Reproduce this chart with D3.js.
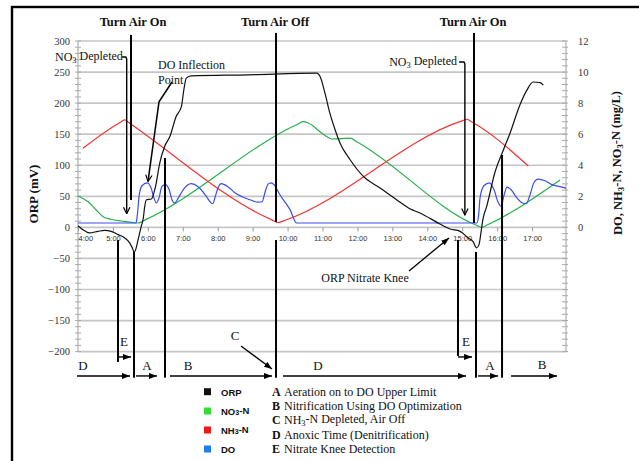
<!DOCTYPE html>
<html><head><meta charset="utf-8">
<script src="https://cdn.jsdelivr.net/npm/d3@7"></script>
<style>
html,body{margin:0;padding:0;background:#fff;}
svg{display:block;}
</style></head><body>
<svg id="chart" width="639" height="461"></svg>
<script>
// ---------- data ----------
const hourTicks = [4,5,6,7,8,9,10,11,12,13,14,15,16,17];
const hourLabels = ["4:00","5:00","6:00","7:00","8:00","9:00","10:00","11:00","12:00","13:00","14:00","15:00","16:00","17:00"];
const orpTicks = [-200,-150,-100,-50,0,50,100,150,200,250,300];
const mgTicks = [0,2,4,6,8,10,12];

const orpHours = [4.00,4.14,4.33,4.57,4.76,4.95,5.15,5.34,5.48,5.55,5.61,5.66,5.72,5.81,5.87,5.91,5.96,6.10,6.22,6.34,6.48,6.63,6.81,6.96,7.03,7.10,7.24,8.87,10.83,10.93,11.07,11.21,11.36,11.50,11.79,12.17,12.65,13.12,13.50,13.79,14.36,14.65,14.94,15.17,15.31,15.41,15.48,15.54,15.59,15.70,15.94,16.18,16.37,16.65,16.85,17.03,17.23,17.32];
const orpValues = [2.7,-3.7,-9.0,-6.4,-4.8,-6.4,-11.7,-17,-25,-32.6,-39.9,-34.2,-19.8,1.6,15.1,33.8,44.5,45.7,65.9,103.5,130.2,146.3,178.5,194.5,221.4,240.2,243.9,245.5,248.2,242.8,216.1,183.9,157.1,135.7,108.8,82.0,63.3,44.5,30,23.2,5.5,-2.6,-6.4,-17,-23,-33,-27.8,-6.9,12.4,33.8,89.5,125,152,197,221,234,233,229];

const no3Hours = [4.00,4.29,4.52,4.72,4.95,5.24,5.58,5.72,5.92,10.30,10.45,10.59,11.07,11.27,11.79,11.99,15.39,15.56,15.71,17.80];
const no3Values = [2.02,1.65,1.12,0.69,0.52,0.41,0.30,0.28,0.48,6.66,6.81,6.72,5.92,5.69,5.74,5.50,0.15,0.0,0.15,3.05];

const nh3Hours = [4.14,5.23,5.34,5.45,9.55,9.73,9.93,14.99,15.13,15.25,16.89];
const nh3Values = [5.09,6.79,6.92,6.75,0.48,0.31,0.46,6.86,6.96,6.82,3.95];

const doHours = [4.00,5.66,5.70,5.75,5.83,5.98,6.09,6.18,6.24,6.32,6.40,6.50,6.61,6.69,6.77,6.86,7.01,7.24,7.44,7.66,7.78,7.86,7.92,8.01,8.10,8.29,8.49,8.92,9.15,9.27,9.35,9.44,9.52,9.61,9.78,10.07,10.26,15.42,15.47,15.51,15.62,15.78,15.91,16.02,16.11,16.20,16.28,16.40,16.54,16.71,16.83,16.94,17.05,17.17,17.37,17.57,17.80,17.97];
const doValues = [0.28,0.28,0.82,2.04,2.68,2.86,2.55,1.85,1.57,1.91,2.62,2.75,2.42,1.78,1.57,1.85,2.42,2.81,2.62,2.04,1.65,1.52,1.91,2.55,2.81,2.62,2.23,1.78,1.62,1.65,2.23,2.78,2.87,2.75,2.10,1.14,0.28,0.28,0.82,1.91,2.68,2.87,2.42,1.65,1.36,2.10,2.59,2.42,1.97,1.59,1.52,2.10,2.87,3.10,3.00,2.75,2.62,2.52];

const seriesNames = ["ORP","NO3-N","NH3-N","DO"];
const seriesColors = ["#111111","#22b04a","#f03333","#3a4df0"];
const legendColors = ["#111111","#33dd33","#ee1a1a","#1a7ff0"];
const phaseNotes = [["A","Aeration on to DO Upper Limit"],["B","Nitrification Using DO Optimization"],["C","NH|3|-N Depleted, Air Off"],["D","Anoxic Time (Denitrification)"],["E","Nitrate Knee Detection"]];

// ---------- setup ----------
const SERIF = "'Liberation Serif','Times New Roman',serif";
const SANS = "'Liberation Sans',Arial,sans-serif";
const svg = d3.select("#chart");
const x = d3.scaleLinear().domain([4, 17.97]).range([78, 566]);
const yL = d3.scaleLinear().domain([-200, 300]).range([351.6, 41]);
const yR = d3.scaleLinear().domain([-8, 12]).range([351.6, 41]);

const defs = svg.append("defs");
defs.append("marker").attr("id","tri").attr("viewBox","0 0 10 10").attr("refX",10).attr("refY",5)
  .attr("markerUnits","userSpaceOnUse").attr("markerWidth",8).attr("markerHeight",6)
  .attr("orient","auto").attr("preserveAspectRatio","none")
  .append("path").attr("d","M0,0L10,5L0,10Z").attr("fill","#000");
defs.append("marker").attr("id","vee").attr("viewBox","0 0 10 10").attr("refX",9).attr("refY",5)
  .attr("markerUnits","userSpaceOnUse").attr("markerWidth",8).attr("markerHeight",8)
  .attr("orient","auto")
  .append("path").attr("d","M1,1L9,5L1,9").attr("fill","none").attr("stroke","#000").attr("stroke-width",1.5);

// frame
svg.append("rect").attr("x",12).attr("y",7).attr("width",700).attr("height",520)
  .attr("fill","none").attr("stroke","#000").attr("stroke-width",2.4);

// gridlines
svg.append("g").selectAll("line").data(orpTicks).join("line")
  .attr("x1",x.range()[0]).attr("x2",x.range()[1])
  .attr("y1",d=>yL(d)).attr("y2",d=>yL(d))
  .attr("stroke","#c6c6c6").attr("stroke-width",1.7);

// axis lines
[x.range()[0], x.range()[1]].forEach(px=>{
  svg.append("line").attr("x1",px).attr("x2",px).attr("y1",yL(300)).attr("y2",yL(-200))
    .attr("stroke","#b5b5b5").attr("stroke-width",1.3);
});
// minor ticks
const minor = d3.range(-200, 301, 10);
svg.append("g").selectAll("line").data(minor).join("line")
  .attr("x1",x.range()[0]-3).attr("x2",x.range()[0]+3)
  .attr("y1",d=>yL(d)).attr("y2",d=>yL(d)).attr("stroke","#aaa").attr("stroke-width",1);
svg.append("g").selectAll("line").data(minor).join("line")
  .attr("x1",x.range()[1]-4).attr("x2",x.range()[1]+2)
  .attr("y1",d=>yL(d)).attr("y2",d=>yL(d)).attr("stroke","#aaa").attr("stroke-width",1);

// left axis labels
const gL = svg.append("g").attr("transform",`translate(${x.range()[0]},0)`)
  .call(d3.axisLeft(yL).tickValues(orpTicks).tickSize(0).tickPadding(8));
gL.select(".domain").remove();
gL.selectAll("text").attr("font-family",SERIF).attr("font-size",10.5).attr("fill","#333");

// right axis labels
const gR = svg.append("g").attr("transform",`translate(${x.range()[1]},0)`)
  .call(d3.axisRight(yR).tickValues(mgTicks).tickSize(0).tickPadding(12));
gR.select(".domain").remove();
gR.selectAll("text").attr("font-family",SERIF).attr("font-size",10.5).attr("fill","#333");

// bottom axis (on the zero line)
const gB = svg.append("g").attr("transform",`translate(0,${yL(0)})`)
  .call(d3.axisBottom(x).tickValues(hourTicks).tickFormat((d,i)=>hourLabels[i]).tickSize(4).tickPadding(4));
gB.select(".domain").remove();
gB.selectAll(".tick line").attr("stroke","#999");
gB.selectAll("text").attr("font-family",SANS).attr("font-size",7.5).attr("fill","#333");
gB.selectAll("text").filter((d,i)=>i===0).attr("text-anchor","start");

// ---------- series ----------
function drawSeries(hours, values, yScale, color, curve){
  const pts = hours.map((h,i)=>[h, values[i]]);
  svg.append("path").datum(pts)
    .attr("d", d3.line().x(d=>x(d[0])).y(d=>yScale(d[1])).curve(curve))
    .attr("fill","none").attr("stroke",color).attr("stroke-width",1.2);
}
drawSeries(no3Hours, no3Values, yR, seriesColors[1], d3.curveMonotoneX);
drawSeries(nh3Hours, nh3Values, yR, seriesColors[2], d3.curveMonotoneX);
drawSeries(doHours, doValues, yR, seriesColors[3], d3.curveMonotoneX);
drawSeries(orpHours, orpValues, yL, seriesColors[0], d3.curveMonotoneX);

// ---------- annotations (in data units: hours, mV) ----------
const vLines = [[5.517,309.8,44.1],[5.603,-39.6,-242],[5.145,-20.3,-216.6],[6.491,111.7,-242],
  [9.669,313,8.7],[9.669,-20.3,-242],[15.337,313,7.1],[15.394,-39.6,-242],[14.879,-20.3,-207],[16.139,116.5,-242]];
svg.append("g").selectAll("line").data(vLines).join("line")
  .attr("x1",d=>x(d[0])).attr("x2",d=>x(d[0])).attr("y1",d=>yL(d[1])).attr("y2",d=>yL(d[2]))
  .attr("stroke","#000").attr("stroke-width",2);

const phaseArrows = [[3.971,5.489,-239.2],[5.66,6.262,-239.2],[6.634,9.554,-239.2],[9.869,15.108,-239.2],
  [15.452,16.025,-239.2],[16.397,17.713,-239.2],[5.145,5.517,-208.6],[14.879,15.28,-208.6]];
svg.append("g").selectAll("line").data(phaseArrows).join("line")
  .attr("x1",d=>x(d[0])).attr("x2",d=>x(d[1])).attr("y1",d=>yL(d[2])).attr("y2",d=>yL(d[2]))
  .attr("stroke","#000").attr("stroke-width",1.4).attr("marker-end","url(#tri)");

const phaseLabels = [["D",4.143,-223.1],["A",5.975,-223.1],["B",7.149,-223.1],["D",10.871,-223.1],
  ["A",15.795,-223.1],["B",17.284,-221],["E",5.317,-184.4],["E",15.108,-184.4],["C",8.495,-174.8]];
svg.append("g").selectAll("text").data(phaseLabels).join("text")
  .attr("x",d=>x(d[1])).attr("y",d=>yL(d[2])).attr("text-anchor","middle").attr("dominant-baseline","central")
  .attr("font-family",SERIF).attr("font-size",13).attr("fill","#111").text(d=>d[0]);

// polyline arrows
function poly(pts, marker, w){
  svg.append("path").datum(pts)
    .attr("d", d3.line().x(d=>x(d[0])).y(d=>yL(d[1])))
    .attr("fill","none").attr("stroke","#000").attr("stroke-width",w||1.3)
    .attr("marker-end",`url(#${marker})`);
}
poly([[5.26,274.2],[5.37,274.2],[5.394,271],[5.394,22]], "vee", 1.4);
poly([[14.908,266.1],[15.05,266.1],[15.075,263],[15.075,20]], "vee", 1.4);
poly([[6.691,234],[6.319,202],[6.004,74]], "vee", 1.5);
poly([[13.476,-70.2],[14.621,-17]], "tri", 1.3);
poly([[8.666,-190.9],[9.554,-227.9]], "tri", 1.3);

// texts with optional subscripts: "NO|3| Depleted" -> sub between bars
function richText(g, str, subSize){
  const parts = str.split("|");
  parts.forEach((p,i)=>{
    if(!p) return;
    const sub = i % 2 === 1;
    const t = g.append("tspan").text(p);
    if(sub){ t.attr("font-size",subSize).attr("dy","0.3em"); }
    else if(i>0){ t.attr("dy","-0.3em"); }
  });
}
function note(h, v, str, opt){
  const t = svg.append("text").attr("x",x(h)).attr("y",yL(v))
    .attr("dominant-baseline","central")
    .attr("text-anchor",opt.anchor||"start")
    .attr("font-family",opt.family||SERIF).attr("font-size",opt.size||12)
    .attr("font-weight",opt.weight||"normal").attr("fill","#111");
  richText(t, str, opt.sub||"70%");
  return t;
}
note(5.575,330.7,"Turn Air On",{anchor:"middle",weight:"bold",size:12.5});
note(9.64,330.7,"Turn Air Off",{anchor:"middle",weight:"bold",size:12.5});
note(15.31,330.7,"Turn Air On",{anchor:"middle",weight:"bold",size:12.5});
note(3.342,274.2,"NO|3| Depleted",{size:12});
note(14.85,266.1,"NO|3| Depleted",{anchor:"end",size:12});
note(6.29,261.3,"DO Inflection",{size:12});
note(6.29,237.3,"Point",{size:12});
note(12.216,-81.5,"ORP Nitrate Knee",{anchor:"middle",size:12});

// axis titles
svg.append("text").attr("transform","translate(33,194) rotate(-90)")
  .attr("text-anchor","middle").attr("dominant-baseline","central")
  .attr("font-family",SERIF).attr("font-weight","bold").attr("font-size",13).attr("fill","#111")
  .text("ORP (mV)");
const rt = svg.append("text").attr("transform","translate(618,163) rotate(-90)")
  .attr("text-anchor","middle").attr("dominant-baseline","central")
  .attr("font-family",SERIF).attr("font-weight","bold").attr("font-size",12.5).attr("fill","#111");
richText(rt, "DO, NH|3|-N, NO|3|-N (mg/L)", "70%");

// ---------- legend ----------
const legRows = [391.7, 411, 430, 449];
seriesNames.forEach((n,i)=>{
  svg.append("rect").attr("x",204).attr("y",legRows[i]-3.5).attr("width",7).attr("height",7)
    .attr("fill",legendColors[i]);
  const t = svg.append("text").attr("x",221).attr("y",legRows[i]).attr("dominant-baseline","central")
    .attr("font-family",SANS).attr("font-weight","bold").attr("font-size",9.5).attr("fill","#111");
  richText(t, n.replace("3","|3|"), "75%");
});
const noteRows = [392, 406.2, 420.4, 434.6, 448.8];
phaseNotes.forEach((p,i)=>{
  svg.append("text").attr("x",272).attr("y",noteRows[i]).attr("dominant-baseline","central")
    .attr("font-family",SERIF).attr("font-weight","bold").attr("font-size",12).attr("fill","#111").text(p[0]);
  const t = svg.append("text").attr("x",284).attr("y",noteRows[i]).attr("dominant-baseline","central")
    .attr("font-family",SERIF).attr("font-size",12).attr("fill","#111");
  richText(t, p[1], "70%");
});
</script>
</body></html>
